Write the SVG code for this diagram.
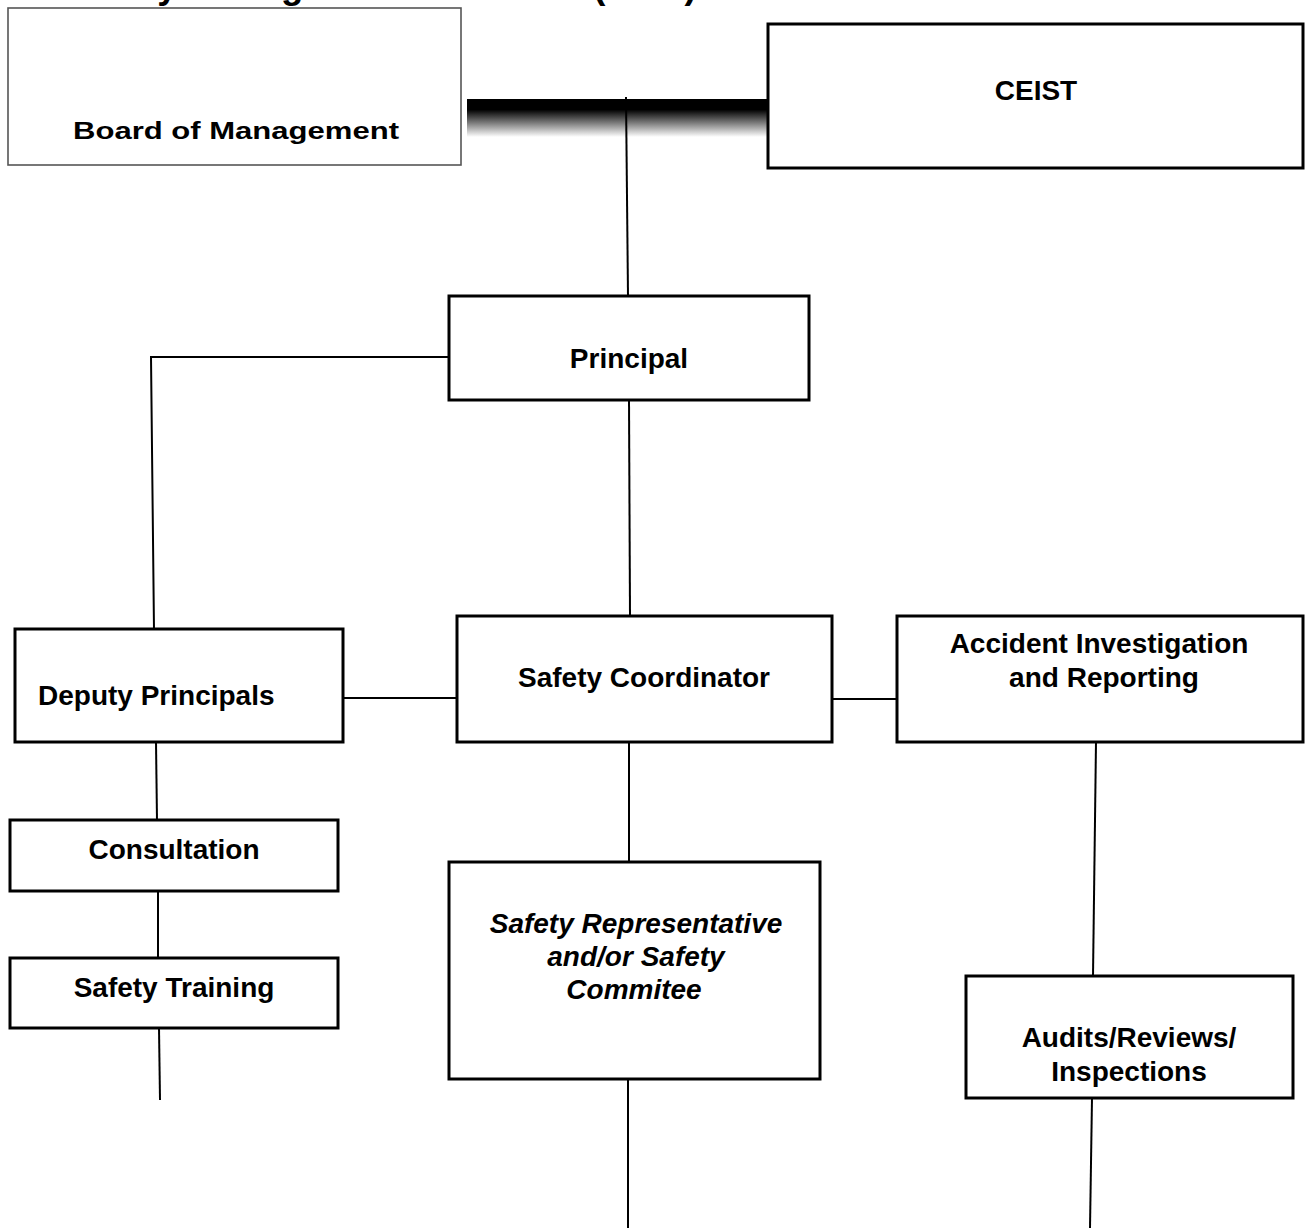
<svg xmlns="http://www.w3.org/2000/svg" width="1306" height="1228" viewBox="0 0 1306 1228">
<style>
  .box { fill: #fff; stroke: #000; stroke-width: 3; }
  .bom { fill: #fff; stroke: #555; stroke-width: 1.6; }
  .lbl { font-family: "Liberation Sans", Arial, sans-serif; font-weight: bold; font-size: 28px; fill: #000; }
  .mid { text-anchor: middle; }
  .it { font-style: italic; }
  .conn line, .conn polyline { stroke: #000; stroke-width: 2; fill: none; }
</style>
<defs>
  <linearGradient id="barGrad" x1="0" y1="0" x2="0" y2="1">
    <stop offset="0" stop-color="#000"/>
    <stop offset="0.28" stop-color="#000"/>
    <stop offset="1" stop-color="#fff"/>
  </linearGradient>
</defs>
<rect x="0" y="0" width="1306" height="1228" fill="#fff"/>

<text id="title" class="lbl" x="68" y="-2" style="font-size:36.5px">Safety Management Structure (SMS)</text>

<g id="link-bar">
  <rect x="467" y="99" width="300" height="38" fill="url(#barGrad)"/>
</g>

<g class="conn" id="connectors">
  <line x1="626" y1="97" x2="628" y2="296"/>
  <polyline points="449,357 151,357 154,630"/>
  <line x1="629" y1="400" x2="630" y2="616"/>
  <line x1="343" y1="698" x2="457" y2="698"/>
  <line x1="832" y1="699" x2="897" y2="699"/>
  <line x1="156" y1="742" x2="157" y2="820"/>
  <line x1="158" y1="891" x2="158" y2="958"/>
  <line x1="159" y1="1028" x2="160" y2="1100"/>
  <line x1="629" y1="742" x2="629" y2="862"/>
  <line x1="628" y1="1079" x2="628" y2="1228"/>
  <line x1="1096" y1="742" x2="1093" y2="976"/>
  <line x1="1092" y1="1098" x2="1090" y2="1228"/>
</g>

<g id="board">
  <rect class="bom" x="8" y="8" width="453" height="157"/>
  <text class="lbl" x="73" y="139" style="font-size:23px" textLength="326" lengthAdjust="spacingAndGlyphs">Board of Management</text>
</g>

<g id="ceist">
  <rect class="box" x="768" y="24" width="535" height="144"/>
  <text class="lbl mid" x="1036" y="100">CEIST</text>
</g>

<g id="principal">
  <rect class="box" x="449" y="296" width="360" height="104"/>
  <text class="lbl mid" x="629" y="368">Principal</text>
</g>

<g id="deputy">
  <rect class="box" x="15" y="629" width="328" height="113"/>
  <text class="lbl" x="38" y="705">Deputy Principals</text>
</g>

<g id="coordinator">
  <rect class="box" x="457" y="616" width="375" height="126"/>
  <text class="lbl mid" x="644" y="687">Safety Coordinator</text>
</g>

<g id="accident">
  <rect class="box" x="897" y="616" width="406" height="126"/>
  <text class="lbl mid" x="1099" y="653">Accident Investigation</text>
  <text class="lbl mid" x="1104" y="687">and Reporting</text>
</g>

<g id="consultation">
  <rect class="box" x="10" y="820" width="328" height="71"/>
  <text class="lbl mid" x="174" y="859">Consultation</text>
</g>

<g id="training">
  <rect class="box" x="10" y="958" width="328" height="70"/>
  <text class="lbl mid" x="174" y="997">Safety Training</text>
</g>

<g id="safety-rep">
  <rect class="box" x="449" y="862" width="371" height="217"/>
  <text class="lbl mid it" x="636" y="933">Safety Representative</text>
  <text class="lbl mid it" x="636" y="966">and/or Safety</text>
  <text class="lbl mid it" x="634" y="999">Commitee</text>
</g>

<g id="audits">
  <rect class="box" x="966" y="976" width="327" height="122"/>
  <text class="lbl mid" x="1129" y="1047">Audits/Reviews/</text>
  <text class="lbl mid" x="1129" y="1081">Inspections</text>
</g>
</svg>
